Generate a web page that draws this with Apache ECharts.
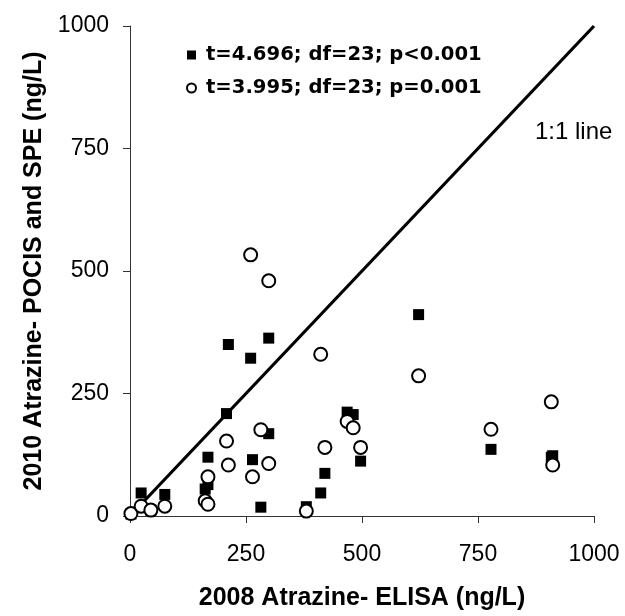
<!DOCTYPE html>
<html>
<head>
<meta charset="utf-8">
<script src="https://cdn.jsdelivr.net/npm/echarts@6/dist/echarts.min.js"></script>
<style>html,body{margin:0;padding:0;background:#fff}#c{width:625px;height:616px}</style>
</head>
<body>
<div id="c"></div>
<script>
// 2008 Atrazine ELISA (x) for each site
const elisa2008 = [2, 24, 45, 75, 162, 168, 168, 208, 212, 260, 264, 282, 299, 299, 380, 411, 420, 468, 481, 497, 622, 778, 908, 911];
// 2010 Atrazine POCIS / SPE (y), filled squares
const series2010Squares = [4, 47, 12, 44, 55, 64, 120, 209, 350, 322, 115, 18, 363, 168, 19, 47, 87, 212, 207, 112, 411, 136, 120, 123];
// 2010 Atrazine POCIS / SPE (y), open circles
const series2010Circles = [5, 20, 12, 20, 31, 24, 80, 153, 104, 533, 80, 176, 480, 107, 10, 330, 140, 193, 180, 140, 286, 177, 233, 104];
const axisTicks = [0, 250, 500, 750, 1000];
const oneToOne = [0, 1000];
const nameSquares = 't=4.696; df=23; p<0.001';
const nameCircles = 't=3.995; df=23; p=0.001';
const lineLabel = '1:1 line';
const xTitle = '2008 Atrazine- ELISA (ng/L)';
const yTitle = '2010 Atrazine- POCIS and SPE (ng/L)';

const tickMin = axisTicks[0];
const tickMax = axisTicks[axisTicks.length - 1];
const tickStep = axisTicks[1] - axisTicks[0];

const chart = echarts.init(document.getElementById('c'), null, {renderer: 'canvas'});
const axisCommon = {
  type: 'value', min: tickMin, max: tickMax, interval: tickStep,
  splitLine: {show: false},
  axisLine: {show: true, lineStyle: {color: '#333', width: 1}},
  axisTick: {show: true, inside: false, length: 7, lineStyle: {color: '#333', width: 1}},
  nameLocation: 'middle',
  nameTextStyle: {fontFamily: 'Liberation Sans', fontWeight: 'bold', fontSize: 25, color: '#000'}
};
const labelFmt = v => String(v);
chart.setOption({
  animation: false,
  backgroundColor: '#fff',
  grid: {left: 130, right: 31, top: 26, bottom: 98, containLabel: false},
  xAxis: Object.assign({}, axisCommon, {
    name: xTitle, nameGap: 70,
    axisLabel: {fontFamily: 'Liberation Sans', fontSize: 23, color: '#000', margin: 27, formatter: labelFmt}
  }),
  yAxis: Object.assign({}, axisCommon, {
    name: yTitle, nameGap: 80,
    axisLabel: {fontFamily: 'Liberation Sans', fontSize: 23, color: '#000', margin: 21, formatter: labelFmt}
  }),
  legend: {
    data: [
      {name: nameSquares, icon: 'path://M0,0H10V10H0Z'},
      {name: nameCircles, icon: 'circle'}
    ],
    orient: 'vertical', left: 181, top: 40,
    itemWidth: 19, itemHeight: 9, itemGap: 13,
    symbolKeepAspect: true,
    textStyle: {fontFamily: 'DejaVu Sans', fontWeight: 'bold', fontSize: 19.6, color: '#000'}
  },
  graphic: [{
    type: 'text', left: 535, top: 120,
    style: {text: lineLabel, font: '24px "Liberation Sans"', fill: '#000'}
  }],
  series: [
    {
      type: 'line', name: lineLabel, silent: true, z: 1,
      data: oneToOne.map(v => [v, v]),
      symbol: 'none', lineStyle: {color: '#000', width: 3.2}
    },
    {
      type: 'scatter', name: nameSquares, z: 2,
      symbol: 'rect', symbolSize: 11,
      itemStyle: {color: '#000', opacity: 1},
      data: elisa2008.map((x, i) => [x, series2010Squares[i]])
    },
    {
      type: 'scatter', name: nameCircles, z: 3,
      symbol: 'circle', symbolSize: 13,
      itemStyle: {color: '#fff', borderColor: '#000', borderWidth: 2, opacity: 1},
      data: elisa2008.map((x, i) => [x, series2010Circles[i]])
    }
  ]
});
</script>
</body>
</html>
